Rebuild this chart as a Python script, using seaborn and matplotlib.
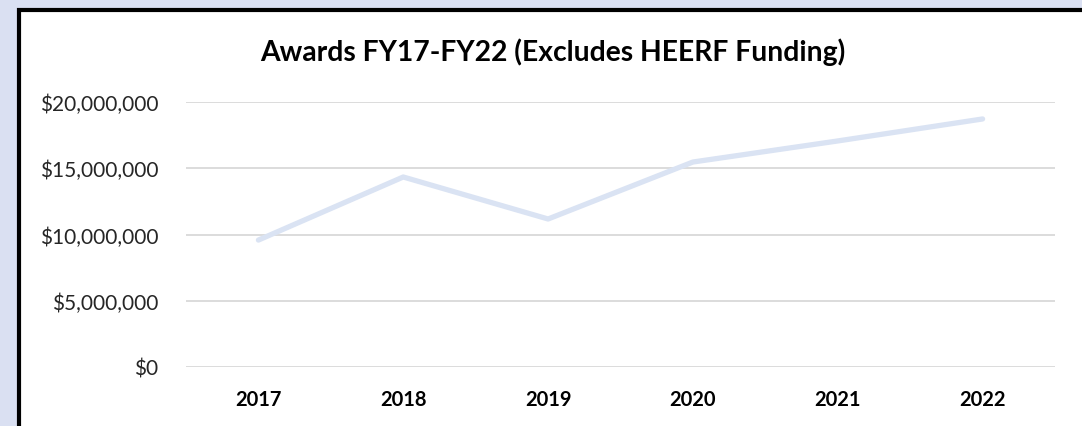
import pandas as pd
import matplotlib.pyplot as plt
import matplotlib.ticker as mticker
from matplotlib.patches import Rectangle
import seaborn as sns

# Data
years = ["2017", "2018", "2019", "2020", "2021", "2022"]
awards = [9_580_000, 14_340_000, 11_170_000, 15_470_000, 17_060_000, 18_720_000]

df = pd.DataFrame({"Year": years, "Awards": awards})

sns.set_theme(style="white")
plt.rcParams["font.family"] = ["Lato", "DejaVu Sans"]

fig = plt.figure(figsize=(10.82, 4.27), dpi=100)
fig.patch.set_facecolor("#DAE0F2")

# white card with black border
card = Rectangle((19 / 1082, -0.05), 1.1, (427 - 11) / 427 + 0.05,
                 transform=fig.transFigure, facecolor="white",
                 edgecolor="black", linewidth=3, zorder=-5)
fig.patches.append(card)

ax = fig.add_axes([186 / 1082, (427 - 368) / 427, (1055 - 186) / 1082, (368 - 103) / 427])
ax.set_facecolor("none")

sns.lineplot(data=df, x="Year", y="Awards", ax=ax, color="#DAE3F3",
             linewidth=3.8, solid_capstyle="round", solid_joinstyle="round")

ax.set_xlim(-0.5, 5.5)
ax.set_ylim(0, 20_000_000)
ax.yaxis.set_major_locator(mticker.MultipleLocator(5_000_000))
ax.yaxis.set_major_formatter(mticker.FuncFormatter(lambda v, p: f"${v:,.0f}"))
ax.grid(axis="y", color="#D9D9D9", linewidth=1.3)
ax.set_axisbelow(True)
for s in ax.spines.values():
    s.set_visible(False)

ax.tick_params(axis="y", length=0, pad=20, labelsize=15, labelcolor="#262626")
ax.tick_params(axis="x", length=0, pad=16, labelsize=14.5, labelcolor="black")
for lbl in ax.get_xticklabels():
    lbl.set_fontweight("bold")
ax.set_xlabel("")
ax.set_ylabel("")

fig.text(553 / 1082, (427 - 52) / 427, "Awards FY17-FY22 (Excludes HEERF Funding)",
         ha="center", va="center", fontsize=20.3, fontweight="bold", color="black")

fig.savefig("out.png", dpi=100, facecolor=fig.get_facecolor())
